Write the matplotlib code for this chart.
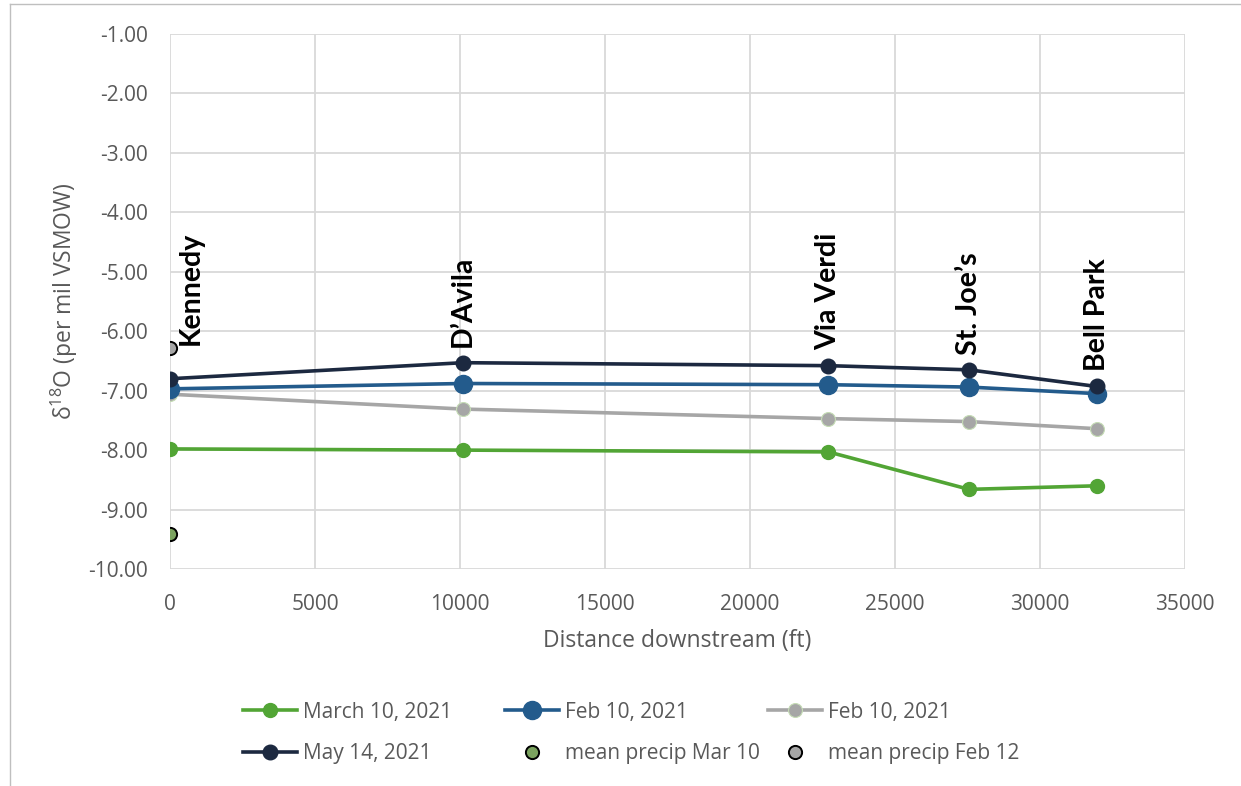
import matplotlib
matplotlib.use("Agg")
import matplotlib.pyplot as plt
from matplotlib.lines import Line2D

# ---- data ----
stations = ["Kennedy", "D\u2019Avila", "Via Verdi", "St. Joe\u2019s", "Bell Park"]
distance_ft = [0, 10100, 22700, 27550, 31950]
march10 = [-7.98, -8.00, -8.03, -8.66, -8.60]
feb10_blue = [-6.97, -6.88, -6.90, -6.94, -7.05]
feb10_gray = [-7.06, -7.31, -7.47, -7.52, -7.64]
may14 = [-6.80, -6.53, -6.58, -6.65, -6.93]
precip_mar10_x = [0]
precip_mar10_y = [-9.41]
precip_feb12_x = [0]
precip_feb12_y = [-6.28]
yticks = [-1, -2, -3, -4, -5, -6, -7, -8, -9, -10]
xticks = [0, 5000, 10000, 15000, 20000, 25000, 30000, 35000]

GREEN = "#52a535"
BLUE = "#235b8c"
GRAY = "#a6a6a6"
DARK = "#1c2940"
TXT = "#595959"

plt.rcParams["font.family"] = ["Open Sans", "DejaVu Sans"]
plt.rcParams["mathtext.default"] = "regular"

fig = plt.figure(figsize=(12.41, 7.86), dpi=100)
ax = fig.add_axes([0.137, 0.276, 0.818, 0.681])

l1, = ax.plot(distance_ft, march10, color=GREEN, lw=2.6, marker="o", ms=10, zorder=3)
l2, = ax.plot(distance_ft, feb10_blue, color=BLUE, lw=2.6, marker="o", ms=13, zorder=4)
l3, = ax.plot(distance_ft, feb10_gray, color=GRAY, lw=2.6, marker="o", ms=10,
              markeredgecolor="#c5dcb5", markeredgewidth=0.8, zorder=3)
l4, = ax.plot(distance_ft, may14, color=DARK, lw=2.6, marker="o", ms=10.5, zorder=5)
p1, = ax.plot(precip_mar10_x, precip_mar10_y, ls="none", marker="o", ms=9.5,
              markerfacecolor="#7ba35f", markeredgecolor="black", markeredgewidth=1.4, zorder=6)
p2, = ax.plot(precip_feb12_x, precip_feb12_y, ls="none", marker="o", ms=9.5,
              markerfacecolor="#a6a6a6", markeredgecolor="black", markeredgewidth=1.4, zorder=6)

# station labels
for i, (name, x, y) in enumerate(zip(stations, distance_ft, may14)):
    if i == 0:
        xy, off = (x, precip_feb12_y[0]), (15, 2)
    else:
        xy, off = (x, y), (0, 11)
    ax.annotate(name, xy, xytext=off, textcoords="offset points",
                rotation=90, ha="center", va="bottom", fontsize=20.5,
                fontweight="bold", family=["Lato", "DejaVu Sans"], color="black", zorder=7)

ax.set_xlim(0, 35000)
ax.set_ylim(-10, -1)
ax.set_xticks(xticks)
ax.set_yticks(yticks)
ax.set_xticklabels([str(v) for v in xticks])
ax.set_yticklabels([f"{v:.2f}" for v in yticks])
ax.tick_params(axis="both", length=0, labelsize=15, colors=TXT)
ax.tick_params(axis="x", pad=18)
ax.tick_params(axis="y", pad=16)
ax.grid(True, color="#d9d9d9", lw=1.3)
ax.set_axisbelow(True)
for s in ax.spines.values():
    s.set_visible(False)

ax.set_xlabel("Distance downstream (ft)", fontsize=16.5, color=TXT, labelpad=10)
ax.set_ylabel("\u03b4$^{18}$O (per mil VSMOW)", fontsize=16.5, color=TXT, labelpad=6)

# figure border (top & left)
fig.add_artist(Line2D([0.008, 1.0], [0.995, 0.995], color="#bfbfbf", lw=1, transform=fig.transFigure))
fig.add_artist(Line2D([0.008, 0.008], [0.0, 0.995], color="#bfbfbf", lw=1, transform=fig.transFigure))

# legend: three columns placed at fixed positions
cols = [([l1, l4], ["March 10, 2021", "May 14, 2021"], 243),
        ([l2, p1], ["Feb 10, 2021", "mean precip Mar 10"], 505),
        ([l3, p2], ["Feb 10, 2021", "mean precip Feb 12"], 768)]
for hs, lbs, xpix in cols:
    leg = fig.legend(hs, lbs, loc="center left", bbox_to_anchor=(xpix / 1241, 1 - 733 / 786),
                     frameon=False, fontsize=15, handlelength=2.6, handletextpad=0.3,
                     labelspacing=1.0, borderpad=0, borderaxespad=0, markerscale=1.0)
    for t in leg.get_texts():
        t.set_color(TXT)

fig.savefig("out.png", dpi=100)
